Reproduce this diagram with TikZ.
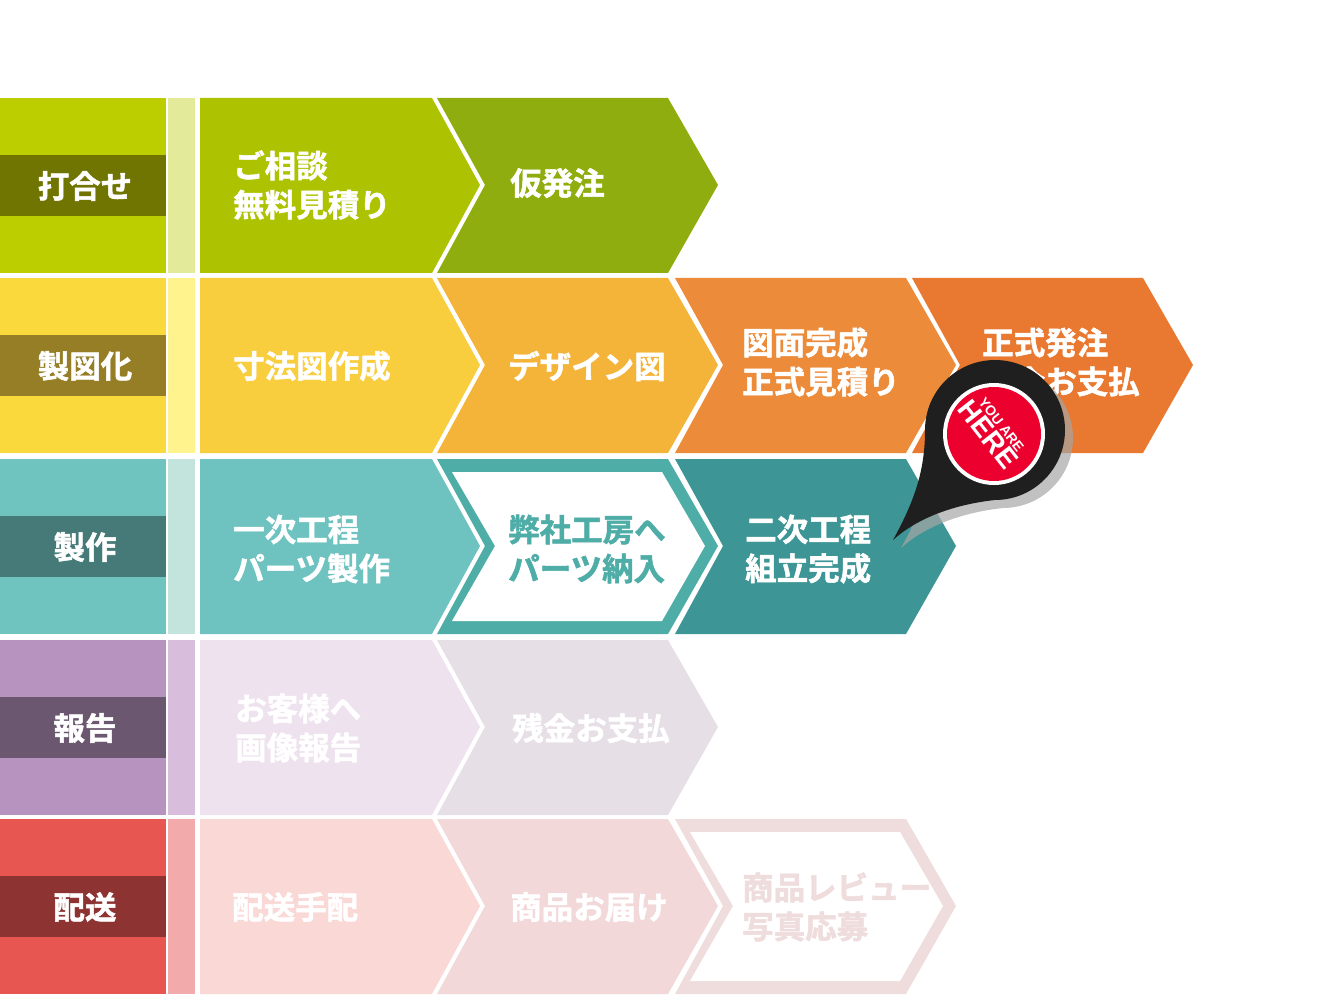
\documentclass[tikz,border=0pt]{standalone}
\usepackage{fontspec}
\newfontfamily\jp[RawFeature={embolden=1.6}]{Noto Sans CJK JP Bold}
\newfontfamily\lat{Liberation Sans}
\definecolor{bA}{HTML}{BCCD00}\definecolor{lA}{HTML}{6F7500}\definecolor{sA}{HTML}{E3EB9A}
\definecolor{bB}{HTML}{F9D93C}\definecolor{lB}{HTML}{957E26}\definecolor{sB}{HTML}{FFF38E}
\definecolor{bC}{HTML}{6FC4C0}\definecolor{lC}{HTML}{467A78}\definecolor{sC}{HTML}{C2E4DC}
\definecolor{bD}{HTML}{B794C0}\definecolor{lD}{HTML}{6C5770}\definecolor{sD}{HTML}{D8BDDC}
\definecolor{bE}{HTML}{E85652}\definecolor{lE}{HTML}{8D3332}\definecolor{sE}{HTML}{F3AAAA}
\definecolor{cA1}{HTML}{ADC200}\definecolor{cA2}{HTML}{8FAD0E}
\definecolor{cB1}{HTML}{F8CD3E}\definecolor{cB2}{HTML}{F4B43A}\definecolor{cB3}{HTML}{EC8C3A}\definecolor{cB4}{HTML}{E97830}
\definecolor{cC1}{HTML}{6EC3C0}\definecolor{cC3}{HTML}{3E9595}
\definecolor{cD1}{HTML}{EEE2EE}\definecolor{cD2}{HTML}{E6E0E6}
\definecolor{cE1}{HTML}{F9D8D6}\definecolor{cE2}{HTML}{F2D8D9}
\definecolor{tealb}{HTML}{4FADA8}
\definecolor{pinkb}{HTML}{EFDCDC}
\definecolor{pinred}{HTML}{EC002D}
\begin{document}
\begin{tikzpicture}[x=1pt,y=-1pt,
  txt/.style={anchor=west,align=left,font=\jp\fontsize{31.5}{39}\selectfont,text=white,inner sep=0},
  lab/.style={font=\jp\fontsize{31.5}{34}\selectfont,text=white,inner sep=0}]
\useasboundingbox (0,0) rectangle (1320,1000);
\newcommand\firstchev[2]{\fill[#2] (200,#1)--(432,#1)--(480,#1+87)--(432,#1+175)--(200,#1+175)--cycle;}
\newcommand\chev[3]{\fill[#3] (#1,#2)--(#1+231,#2)--(#1+281,#2+87)--(#1+231,#2+175)--(#1,#2+175)--(#1+48,#2+87)--cycle;}
\newcommand\rowbg[5]{\fill[#2] (0,#1) rectangle (166,#1+175);
 \fill[#4] (168,#1) rectangle (195,#1+175);
 \fill[#3] (0,#1+57) rectangle (166,#1+118);
 \node[lab] (L#1) at (85,#1+88) {#5};}
% row 1
\rowbg{98}{bA}{lA}{sA}{打合せ}
\firstchev{98}{cA1}
\chev{437}{98}{cA2}
\node[txt] (a1) at (233,185) {ご相談\\無料見積り};
\node[txt] (a2) at (510,183) {仮発注};
% row 2
\rowbg{278}{bB}{lB}{sB}{製図化}
\firstchev{278}{cB1}
\chev{437}{278}{cB2}
\chev{675}{278}{cB3}
\chev{912}{278}{cB4}
\node[txt] (b1) at (233,366) {寸法図作成};
\node[txt] (b2) at (508,366) {デザイン図};
\node[txt] (b3) at (742,362) {図面完成\\正式見積り};
\node[txt] (b4) at (982,362) {正式発注\\前金お支払};
% row 3
\rowbg{459}{bC}{lC}{sC}{製作}
\firstchev{459}{cC1}
\chev{437}{459}{tealb}
\fill[white] (452,472)--(662,472)--(705,546)--(662,621)--(452,621)--(495,546)--cycle;
\chev{675}{459}{cC3}
\node[txt] (c1) at (233,549) {一次工程\\パーツ製作};
\node[txt,text=tealb] (c2) at (508,549) {弊社工房へ\\パーツ納入};
\node[txt] (c3) at (745,549) {二次工程\\組立完成};
% row 4
\rowbg{640}{bD}{lD}{sD}{報告}
\firstchev{640}{cD1}
\chev{437}{640}{cD2}
\node[txt] (d1) at (235,728) {お客様へ\\画像報告};
\node[txt] (d2) at (512,728) {残金お支払};
% row 5
\rowbg{819}{bE}{lE}{sE}{配送}
\firstchev{819}{cE1}
\chev{437}{819}{cE2}
\chev{675}{819}{pinkb}
\fill[white] (690,832)--(900,832)--(943,906)--(900,981)--(690,981)--(733,906)--cycle;
\node[txt] (e1) at (232,907) {配送手配};
\node[txt] (e2) at (510,907) {商品お届け};
\node[txt,text=pinkb] (e3) at (742,907) {商品レビュー\\写真応募};
% pin
\fill[black!35,opacity=0.7] (901,548) .. controls (923,508) and (933,478) .. (933,438) arc[start angle=180,end angle=450,radius=70] .. controls (958,513) and (923,528) .. (901,548) -- cycle;
\fill[black!88] (893,540) .. controls (915,500) and (925,470) .. (925,430) arc[start angle=180,end angle=450,radius=70] .. controls (950,505) and (915,520) .. (893,540) -- cycle;
\fill[white] (994,434) circle (51);
\fill[pinred] (994,434) circle (47);
\node[rotate=-52,text=white,align=center,inner sep=0,font=\lat\bfseries] (pin) at (993,431)
 {{\fontsize{14}{14}\selectfont YOU ARE}\\[1pt]{\fontsize{28}{28}\selectfont HERE}};
\end{tikzpicture}
\end{document}
